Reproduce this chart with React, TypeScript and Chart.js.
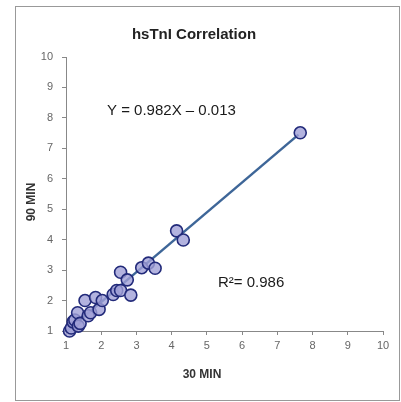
import React, { useEffect, useRef } from "react";
import { Chart, registerables } from "chart.js";
Chart.register(...registerables);

const chartTitle = "hsTnI Correlation";
const xTitle = "30 MIN";
const yTitle = "90 MIN";
const equationText = "Y = 0.982X \u2013 0.013";
const r2Text = "R\u00B2= 0.986";

const min30 = [1.1, 1.15, 1.2, 1.25, 1.33, 1.35, 1.4, 1.54, 1.63, 1.7, 1.84, 1.94, 2.03, 2.34, 2.44, 2.55, 2.55, 2.74, 2.84, 3.15, 3.34, 3.53, 4.14, 4.33, 7.65];
const min90 = [1.0, 1.1, 1.3, 1.36, 1.6, 1.16, 1.25, 2.0, 1.5, 1.6, 2.1, 1.71, 2.0, 2.2, 2.33, 2.33, 2.93, 2.68, 2.18, 3.08, 3.23, 3.06, 4.29, 3.99, 7.51];
const trendX = [1.0, 7.6];
const trendY = [0.97, 7.45];
const tickValues = [1, 2, 3, 4, 5, 6, 7, 8, 9, 10];

const FONT = "'Liberation Sans', Arial, sans-serif";

export default function App() {
  const ref = useRef<HTMLCanvasElement>(null);
  useEffect(() => {
    if (!ref.current) return;
    const textPlugin = {
      id: "texts",
      afterDraw(chart: any) {
        const ctx = chart.ctx;
        ctx.save();
        ctx.fillStyle = "#222";
        ctx.textAlign = "center";
        ctx.textBaseline = "middle";
        ctx.font = "bold 15px " + FONT;
        ctx.fillText(chartTitle, 194, 35);
        ctx.fillStyle = "#333";
        ctx.font = "bold 12px " + FONT;
        ctx.fillText(xTitle, 202, 375);
        ctx.save();
        ctx.translate(32, 202);
        ctx.rotate(-Math.PI / 2);
        ctx.fillText(yTitle, 0, 0);
        ctx.restore();
        ctx.font = "15px " + FONT;
        ctx.fillStyle = "#1a1a1a";
        ctx.textAlign = "left";
        ctx.fillText(equationText, 107, 111);
        ctx.fillText(r2Text, 218, 283);
        ctx.restore();
      },
    };
    const chart = new Chart(ref.current, {
      type: "scatter",
      data: {
        datasets: [
          {
            type: "scatter",
            data: min30.map((x, i) => ({ x, y: min90[i] })),
            backgroundColor: "rgba(160,160,215,0.8)",
            borderColor: "#222a7a",
            borderWidth: 1.6,
            pointRadius: 6,
            clip: false,
            order: 1,
          },
          {
            type: "line",
            data: trendX.map((x, i) => ({ x, y: trendY[i] })),
            borderColor: "#3e6698",
            borderWidth: 2.5,
            pointRadius: 0,
            fill: false,
            clip: false,
            order: 2,
          } as any,
        ],
      },
      options: {
        animation: false,
        responsive: false,
        maintainAspectRatio: false,
        layout: { padding: { top: 57, right: 18, left: 0, bottom: 0 } },
        plugins: { legend: { display: false }, tooltip: { enabled: false }, title: { display: false } },
        scales: {
          x: {
            type: "linear",
            min: 1,
            max: 10,
            afterBuildTicks: (s: any) => { s.ticks = tickValues.map((v) => ({ value: v })); },
            afterFit: (s: any) => { s.height = 71; },
            grid: { drawOnChartArea: false, drawTicks: true, tickLength: 4, color: "#888" },
            border: { display: true, color: "#888", width: 1 },
            ticks: { color: "#666", font: { size: 11, family: FONT }, padding: 4 },
            title: { display: false },
          },
          y: {
            type: "linear",
            min: 1,
            max: 10,
            afterBuildTicks: (s: any) => { s.ticks = tickValues.map((v) => ({ value: v })); },
            afterFit: (s: any) => { s.width = 66; },
            grid: { drawOnChartArea: false, drawTicks: true, tickLength: 4, color: "#888" },
            border: { display: true, color: "#888", width: 1 },
            ticks: { color: "#666", font: { size: 11, family: FONT }, padding: 9 },
            title: { display: false },
          },
        },
      },
      plugins: [textPlugin],
    } as any);
    return () => chart.destroy();
  }, []);
  return (
    <div style={{ position: "absolute", left: 0, top: 0, width: 401, height: 402, background: "#fff" }}>
      <div style={{ position: "absolute", left: 15, top: 6, width: 385, height: 395, border: "1px solid #999", boxSizing: "border-box" }} />
      <canvas ref={ref} width={401} height={402} style={{ position: "absolute", left: 0, top: 0 }} />
    </div>
  );
}
